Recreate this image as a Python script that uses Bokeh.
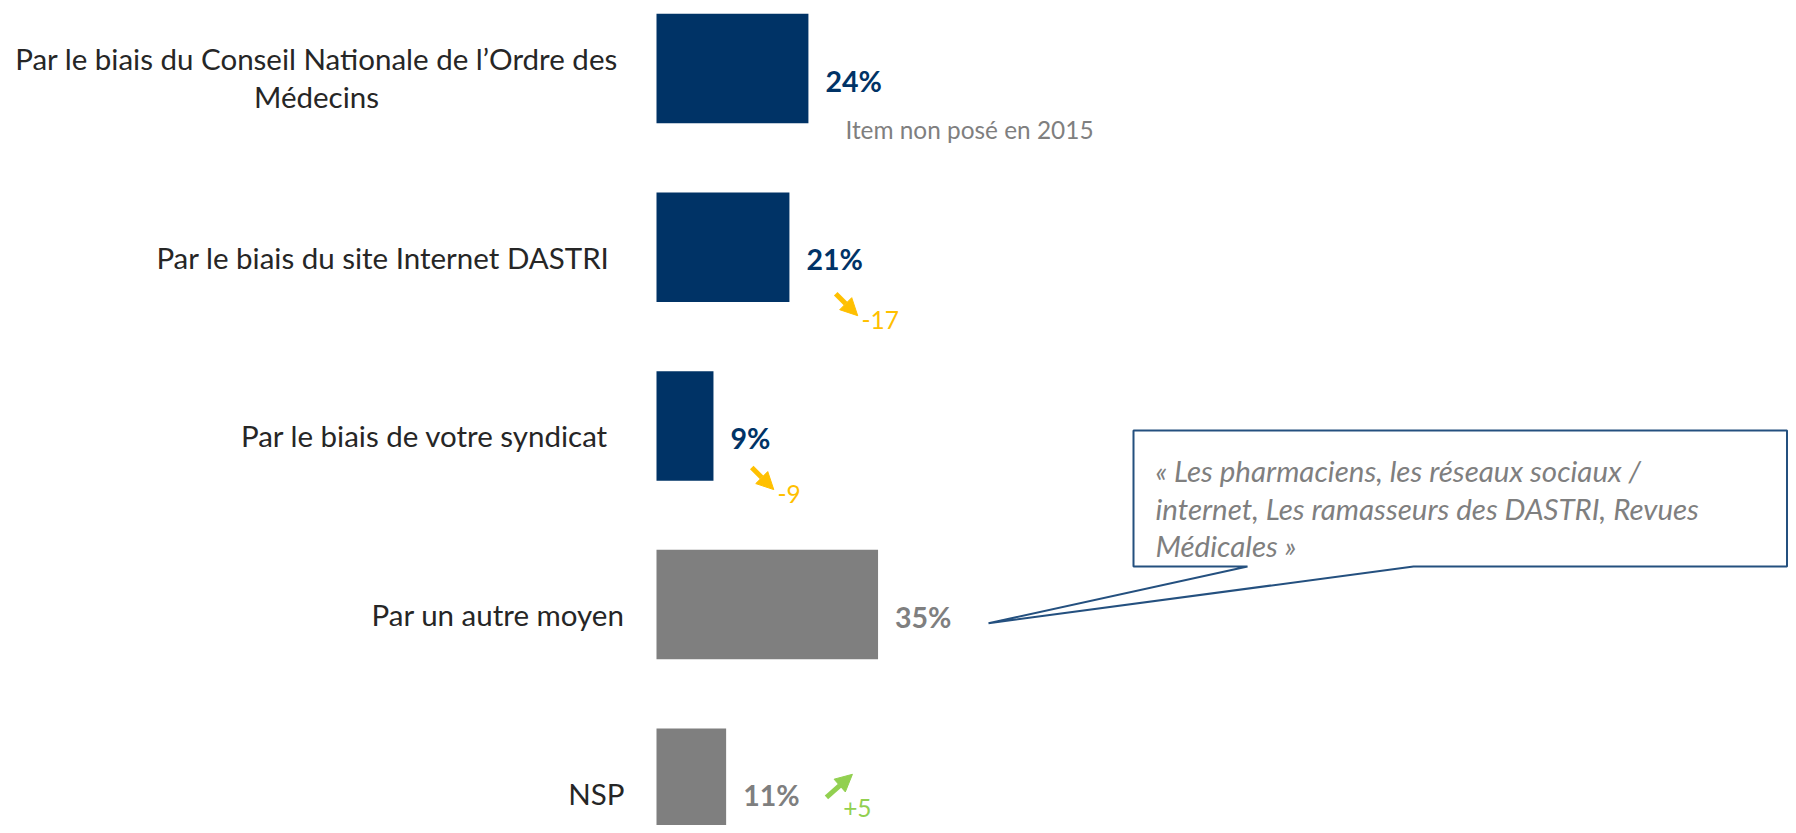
from bokeh.plotting import figure
from bokeh.models import Range1d, Arrow, NormalHead, ColumnDataSource
from bokeh.embed import file_html
from bokeh.resources import INLINE
from bokeh.core.properties import value

# ---------------- data ----------------
categories = [
    "Par le biais du Conseil Nationale de l\u2019Ordre des\nMédecins",
    "Par le biais du site Internet DASTRI",
    "Par le biais de votre syndicat",
    "Par un autre moyen",
    "NSP",
]
values = [24, 21, 9, 35, 11]
evolution = [None, -17, -9, None, 5]
notes = ["Item non posé en 2015", None, None, None, None]
quote_lines = [
    "« Les pharmaciens, les réseaux sociaux /",
    "internet, Les ramasseurs des DASTRI, Revues",
    "Médicales »",
]
quote_row = 3

# ---------------- styles / layout ----------------
NAVY = "#003366"
GREY_BAR = "#7f7f7f"
GREY_TXT = "#7f7f7f"
LABEL_COL = "#262626"
DOWN = "#FFC000"
UP = "#92D050"
CALLOUT = "#24507f"
FONT = "Lato"

bar_colors = [NAVY, NAVY, NAVY, GREY_BAR, GREY_BAR]
pct_colors = [NAVY, NAVY, NAVY, GREY_TXT, GREY_TXT]

W, H = 1788, 825
BAR_X0 = 656.0     # px of value 0
PXU = 6.33         # px per percent
ROW0 = 68.0        # px of first bar centre
ROW = 178.7        # px between bars
BAR_H = 109.5

def dx(px):
    return px / PXU

def dy(py):
    return py / ROW

def X(px):
    return (px - BAR_X0) / PXU

def Y(py):
    return (py - ROW0) / ROW

p = figure(
    width=W, height=H,
    x_range=Range1d(X(0), X(W)),
    y_range=Range1d(Y(H), Y(0)),
    output_backend="svg", toolbar_location=None,
    min_border=0, outline_line_color=None,
    background_fill_color="white", border_fill_color="white",
)
p.xaxis.visible = False
p.yaxis.visible = False
p.grid.visible = False

idx = list(range(len(values)))

# bars
p.hbar(y=idx, left=0, right=values, height=BAR_H / ROW,
       fill_color=bar_colors, line_color=None)

# category labels
LABEL_SIZE = "29.5px"
label_right = [None, 609, 608, 624, 624]
single = dict(x=[], y=[], t=[], xo=[])
for i, c in enumerate(categories):
    if "\n" in c:
        l1, l2 = c.split("\n")
        for t, yo in ((l1, -10.3), (l2, 28.0)):
            p.text(x=[0], y=[i], text=[t], x_offset=316 - BAR_X0, y_offset=yo,
                   text_align="center", text_baseline="alphabetic",
                   text_font=value(FONT), text_font_size=LABEL_SIZE, text_color=LABEL_COL)
    else:
        single["x"].append(0)
        single["y"].append(i)
        single["t"].append(c)
        single["xo"].append(label_right[i] - BAR_X0)
p.text(x="x", y="y", text="t", x_offset="xo", y_offset=10,
       source=ColumnDataSource(single),
       text_align="right", text_baseline="alphabetic",
       text_font=value(FONT), text_font_size=LABEL_SIZE, text_color=LABEL_COL)

# percentage labels
p.text(x=values, y=idx, text=[f"{v}%" for v in values], x_offset=17, y_offset=12,
       text_align="left", text_baseline="alphabetic", text_font=value(FONT),
       text_font_size="28.5px", text_font_style="bold", text_color=pct_colors)

# notes
for i, n in enumerate(notes):
    if n:
        p.text(x=[values[i]], y=[i], text=[n], x_offset=37, y_offset=61.3,
               text_align="left", text_baseline="alphabetic", text_font=value(FONT),
               text_font_size="24.4px", text_color=GREY_TXT)

# evolution arrows (pixel offsets from bar end / bar centre)
evo_layout = {
    1: dict(a0=(46.3, 46.5), a1=(68.3, 68.5), t=(72, 72.8)),
    2: dict(a0=(38.3, 41.7), a1=(60.3, 63.7), t=(64, 68.0)),
    4: dict(a0=(100.3, 14.0), a1=(126.3, -9.0), t=(117, 24.5)),
}
for i, e in enumerate(evolution):
    if e is None:
        continue
    col = UP if e > 0 else DOWN
    lay = evo_layout[i]
    p.add_layout(Arrow(
        x_start=values[i] + dx(lay["a0"][0]), y_start=i + dy(lay["a0"][1]),
        x_end=values[i] + dx(lay["a1"][0]), y_end=i + dy(lay["a1"][1]),
        line_color=col, line_width=5,
        end=NormalHead(size=17, fill_color=col, line_color=col, line_width=1)))
    p.text(x=[values[i]], y=[i], text=[f"{e:+d}"], x_offset=lay["t"][0], y_offset=lay["t"][1],
           text_align="left", text_baseline="alphabetic", text_font=value(FONT),
           text_font_size="24.5px", text_color=col)

# callout for "Par un autre moyen"
box_l, box_t, box_r, box_b = 1133, 430, W - 1.5, 566
notch_l, notch_r = 1247, 1413
tip = (988, 622.7)
px_pts = [(box_l, box_t), (box_r, box_t), (box_r, box_b), (notch_r, box_b), tip,
          (notch_l, box_b), (box_l, box_b)]
p.patch(x=[X(a) for a, b in px_pts], y=[Y(b) for a, b in px_pts],
        fill_color="white", line_color=CALLOUT, line_width=2)
for k, line in enumerate(quote_lines):
    p.text(x=[X(1155)], y=[Y(470 + 37.5 * k)], text=[line],
           text_align="left", text_baseline="alphabetic", text_font=value(FONT),
           text_font_size="29.5px", text_font_style="italic", text_color=GREY_TXT)

open("out.html", "w").write(file_html(p, INLINE))
